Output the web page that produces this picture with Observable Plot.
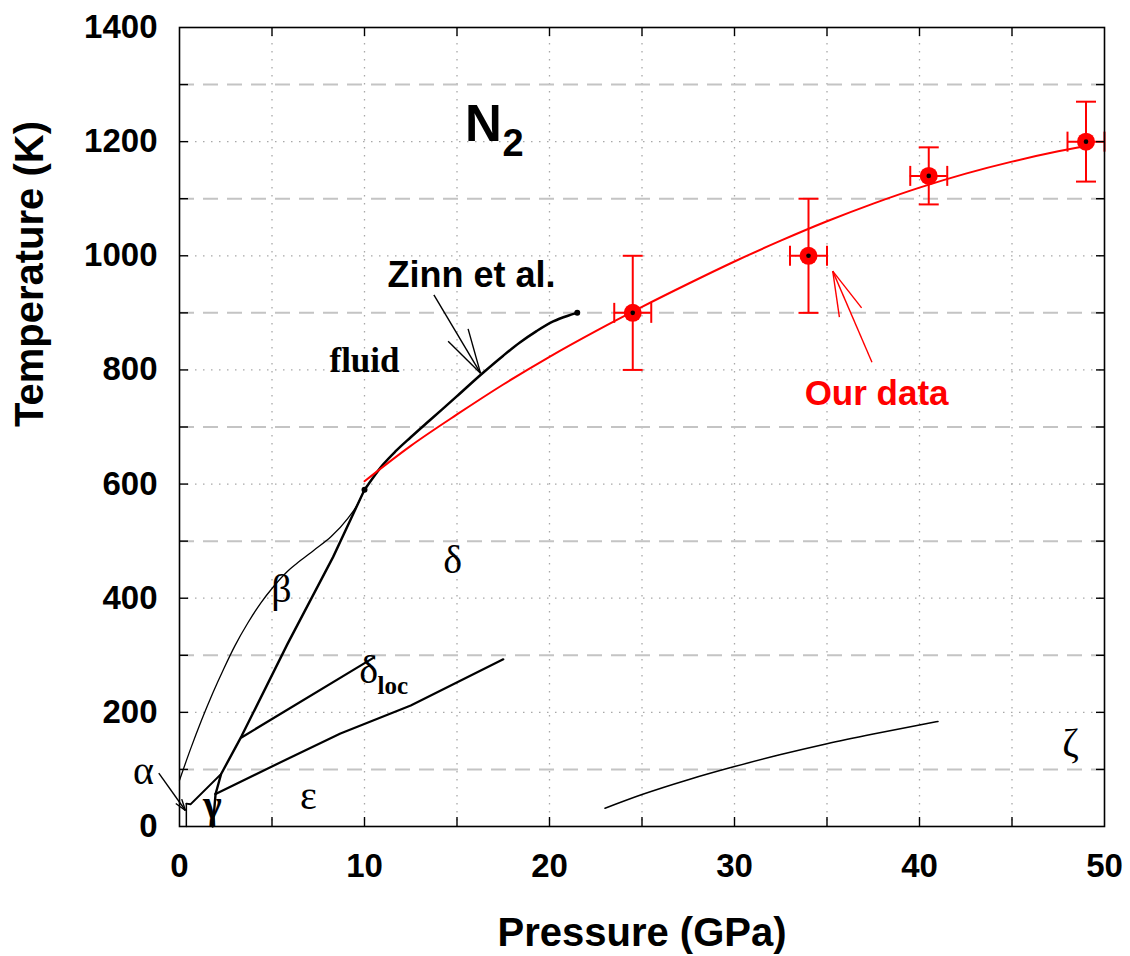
<!DOCTYPE html>
<html><head><meta charset="utf-8">
<script src="https://cdn.jsdelivr.net/npm/d3@7"></script>
<script src="https://cdn.jsdelivr.net/npm/@observablehq/plot@0.6"></script>
<style>body{margin:0;background:#fff}#chart svg{display:block}</style>
</head><body><div id="chart"></div>
<script>
// ---- axis ticks ----
const xTickLabels = [0, 10, 20, 30, 40, 50];
const xMinorTicks = [5, 10, 15, 20, 25, 30, 35, 40, 45];
const yTickLabels = [0, 200, 400, 600, 800, 1000, 1200, 1400];
const yDotGrid = [200, 400, 600, 800, 1000, 1200];
const yDashGrid = [100, 300, 500, 700, 900, 1100, 1300];
const yAllTicks = [100, 200, 300, 400, 500, 600, 700, 800, 900, 1000, 1100, 1200, 1300];

// ---- our data (red) ----
const ourP = [24.5, 34, 40.5, 49];
const ourT = [900, 1000, 1140, 1200];
const ourPErr = [1, 1, 1, 1];
const ourTErr = [100, 100, 50, 70];

// ---- fit through our data (red curve) ----
const fitP = [10, 12.5, 15, 17.5, 20, 22.5, 25, 27.5, 30, 32.5, 35, 37.5, 40, 42.5, 45, 47.5, 49];
const fitT = [605, 667, 722, 774.5, 823, 868, 910.5, 951, 990, 1026.5, 1060.5, 1091.5, 1119.5, 1144, 1165, 1183, 1192.6];

// ---- Zinn et al. melting line ----
const zinnP = [10, 10.5, 11, 11.7, 12.5, 13.5, 15, 16.3, 17.5, 18.4, 19.3, 20.2, 21, 21.5];
const zinnT = [590, 613, 634, 658, 682, 711, 754, 792, 825, 848, 868, 885, 895, 900];

// ---- phase boundaries ----
const betaFluidP = [0, 0.6, 1.2, 1.8, 2.4, 3.0, 3.7, 4.4, 5.1, 5.8, 6.5, 7.3, 8.2, 9.1, 9.6, 10];
const betaFluidT = [81, 136, 187, 234, 277, 317, 357, 392, 421, 446, 465, 485, 508, 540, 563, 590];
const betaDeltaP = [1.95, 2.25, 3.35, 5.84, 8.3, 10];
const betaDeltaT = [57, 92, 158, 320, 472, 590];
const alphaBetaP = [0.37, 0.6, 2.25];
const alphaBetaT = [40, 39, 92];
const alphaEdgeP = [0.37, 0.37];
const alphaEdgeT = [0, 40];
const gammaEdgeP = [1.95, 1.8];
const gammaEdgeT = [57, 0];
const epsP = [1.95, 6.0, 8.7, 12.5, 17.5];
const epsT = [57, 121, 163, 212, 293];
const deltaLocP = [3.35, 10.5];
const deltaLocT = [156, 296];
const zetaP = [23, 25, 27.5, 30, 32.5, 35, 37.5, 40, 41];
const zetaT = [32, 56, 82, 105, 126, 145, 162, 178, 184];

// ---- annotation arrows (segments: from -> tip) ----
const arrowP1 = [13.75, 14.52, 15.6, 37.43, 35.67, 36.87, -1.12, -0.2, 0.12];
const arrowT1 = [931.6, 850.4, 872, 813.6, 892.5, 908.8, 93.4, 40.3, 48];
const arrowP2 = [16.27, 16.27, 16.27, 35.31, 35.31, 35.31, 0.32, 0.32, 0.32];
const arrowT2 = [794.3, 794.3, 794.3, 973.1, 973.1, 973.1, 28, 28, 28];
const arrowColor = ["black", "black", "black", "red", "red", "red", "black", "black", "black"];

// ---- labels ----
const greekText = ["α", "β", "δ", "ε", "ζ", "δ"];
const greekP = [-1.95, 5.51, 14.76, 6.97, 48.16, 10.22];
const greekT = [75, 393, 445, 31.5, 124, 250.6];
const gammaText = ["γ"]; const gammaP = [1.78]; const gammaT = [15];
const locText = ["loc"]; const locP = [10.7]; const locT = [233];
const fluidText = ["fluid"]; const fluidP = [10.0]; const fluidT = [795.5];
const zinnText = ["Zinn et al."]; const zinnLabelP = [15.78]; const zinnLabelT = [946];
const ourText = ["Our data"]; const ourLabelP = [37.68]; const ourLabelT = [738];
const nText = ["N"]; const nP = [16.43]; const nT = [1200.8];
const subText = ["2"]; const subP = [17.46]; const subT = [1175.7];
const xTitle = "Pressure (GPa)";
const yTitle = "Temperature (K)";

// ---- build tables ----
const pts = ourP.map((p, i) => ({p, t: ourT[i], pe: ourPErr[i], te: ourTErr[i]}));
const toPts = (P, T) => P.map((p, i) => ({p, t: T[i]}));
const arrows = arrowP1.map((p, i) => ({p1: p, t1: arrowT1[i], p2: arrowP2[i], t2: arrowT2[i], c: arrowColor[i]}));
const lbl = (txt, P, T) => txt.map((s, i) => ({s, p: P[i], t: T[i]}));

const hCap = {draw(ctx, size) { const r = Math.sqrt(size / Math.PI); ctx.moveTo(-r, 0); ctx.lineTo(r, 0); }};
const vCap = {draw(ctx, size) { const r = Math.sqrt(size / Math.PI); ctx.moveTo(0, -r); ctx.lineTo(0, r); }};

const SANS = "Liberation Sans, Arial, Helvetica, sans-serif";
const SERIF = "Liberation Serif, Times New Roman, serif";
const dotted = {stroke: "#a8a8a8", strokeOpacity: 1, strokeWidth: 1.3, strokeDasharray: "1.5,6.5"};

const chart = Plot.plot({
  width: 1130, height: 956,
  marginLeft: 179, marginRight: 26, marginTop: 27, marginBottom: 130,
  x: {domain: [0, 50]},
  y: {domain: [0, 1400]},
  style: {background: "white", overflow: "visible", fontFamily: SANS},
  marks: [
    Plot.gridX({ticks: xMinorTicks, ...dotted}),
    Plot.gridY({ticks: yDotGrid, ...dotted}),
    Plot.gridY({ticks: yDashGrid, stroke: "#c4c4c4", strokeOpacity: 1, strokeWidth: 2, strokeDasharray: "15,9"}),

    // phase lines
    Plot.line(toPts(betaFluidP, betaFluidT), {x: "p", y: "t", stroke: "black", strokeWidth: 1.3, curve: "monotone-x"}),
    Plot.line(toPts(betaDeltaP, betaDeltaT), {x: "p", y: "t", stroke: "black", strokeWidth: 2.4}),
    Plot.line(toPts(alphaBetaP, alphaBetaT), {x: "p", y: "t", stroke: "black", strokeWidth: 1.8}),
    Plot.line(toPts(alphaEdgeP, alphaEdgeT), {x: "p", y: "t", stroke: "black", strokeWidth: 1.5}),
    Plot.line(toPts(gammaEdgeP, gammaEdgeT), {x: "p", y: "t", stroke: "black", strokeWidth: 2.4}),
    Plot.line(toPts(epsP, epsT), {x: "p", y: "t", stroke: "black", strokeWidth: 2.2}),
    Plot.line(toPts(deltaLocP, deltaLocT), {x: "p", y: "t", stroke: "black", strokeWidth: 2.2}),
    Plot.line(toPts(zetaP, zetaT), {x: "p", y: "t", stroke: "black", strokeWidth: 1.5, curve: "monotone-x"}),
    Plot.line(toPts(zinnP, zinnT), {x: "p", y: "t", stroke: "black", strokeWidth: 2.5, curve: "monotone-x"}),
    Plot.dot([{p: zinnP[zinnP.length - 1], t: zinnT[zinnT.length - 1]}, {p: zinnP[0], t: zinnT[0]}], {x: "p", y: "t", r: 3, fill: "black"}),

    // red fit
    Plot.line(toPts(fitP, fitT), {x: "p", y: "t", stroke: "#ff0000", strokeWidth: 2, curve: "monotone-x"}),

    // error bars
    Plot.ruleX(pts, {x: "p", y1: d => d.t - d.te, y2: d => d.t + d.te, stroke: "#ff0000", strokeWidth: 2}),
    Plot.ruleY(pts, {y: "t", x1: d => d.p - d.pe, x2: d => d.p + d.pe, stroke: "#ff0000", strokeWidth: 2}),
    Plot.dot(pts, {x: "p", y: d => d.t - d.te, symbol: hCap, r: 10, fill: "none", stroke: "#ff0000", strokeWidth: 2}),
    Plot.dot(pts, {x: "p", y: d => d.t + d.te, symbol: hCap, r: 10, fill: "none", stroke: "#ff0000", strokeWidth: 2}),
    Plot.dot(pts, {x: d => d.p - d.pe, y: "t", symbol: vCap, r: 10, fill: "none", stroke: "#ff0000", strokeWidth: 2}),
    Plot.dot(pts, {x: d => d.p + d.pe, y: "t", symbol: vCap, r: 10, fill: "none", stroke: "#ff0000", strokeWidth: 2}),
    Plot.dot(pts, {x: "p", y: "t", r: 9, fill: "#ff0000"}),
    Plot.dot(pts, {x: "p", y: "t", r: 2.3, fill: "black"}),

    // arrows
    Plot.link(arrows, {x1: "p1", y1: "t1", x2: "p2", y2: "t2", stroke: "c", strokeWidth: 1.4}),

    // labels
    Plot.text(lbl(greekText, greekP, greekT), {x: "p", y: "t", text: "s", lineAnchor: "bottom", fontFamily: SERIF, fontSize: 40, fill: "black"}),
    Plot.text(lbl(gammaText, gammaP, gammaT), {x: "p", y: "t", text: "s", lineAnchor: "bottom", fontFamily: SERIF, fontSize: 40, fontWeight: "bold", fill: "black"}),
    Plot.text(lbl(locText, locP, locT), {x: "p", y: "t", text: "s", lineAnchor: "bottom", textAnchor: "start", fontFamily: SERIF, fontSize: 25, fontWeight: "bold", fill: "black"}),
    Plot.text(lbl(fluidText, fluidP, fluidT), {x: "p", y: "t", text: "s", lineAnchor: "bottom", fontFamily: SERIF, fontSize: 35, fontWeight: "bold", fill: "black"}),
    Plot.text(lbl(zinnText, zinnLabelP, zinnLabelT), {x: "p", y: "t", text: "s", lineAnchor: "bottom", fontFamily: SANS, fontSize: 36, fontWeight: "bold", fill: "black"}),
    Plot.text(lbl(ourText, ourLabelP, ourLabelT), {x: "p", y: "t", text: "s", lineAnchor: "bottom", fontFamily: SANS, fontSize: 35, fontWeight: "bold", fill: "#ff0000"}),
    Plot.text(lbl(nText, nP, nT), {x: "p", y: "t", text: "s", lineAnchor: "bottom", fontFamily: SANS, fontSize: 51, fontWeight: "bold", fill: "black"}),
    Plot.text(lbl(subText, subP, subT), {x: "p", y: "t", text: "s", lineAnchor: "bottom", textAnchor: "start", fontFamily: SANS, fontSize: 38, fontWeight: "bold", fill: "black"}),

    // frame and axes
    Plot.frame({stroke: "black", strokeWidth: 1.6}),
    Plot.axisX({anchor: "bottom", ticks: xMinorTicks, tickSize: -9, tickFormat: () => "", label: null, strokeWidth: 1.4}),
    Plot.axisX({anchor: "top", ticks: xMinorTicks, tickSize: -8, tickFormat: () => "", label: null, strokeWidth: 1.4}),
    Plot.axisY({anchor: "left", ticks: yAllTicks, tickSize: -9, tickFormat: () => "", label: null, strokeWidth: 1.4}),
    Plot.axisY({anchor: "right", ticks: yAllTicks, tickSize: -9, tickFormat: () => "", label: null, strokeWidth: 1.4}),
    Plot.axisX({anchor: "bottom", ticks: xTickLabels, tickFormat: d => String(d), tickSize: 0, tickPadding: 27, label: null, fontSize: 33, fontWeight: "bold", fontFamily: SANS, fill: "black"}),
    Plot.axisY({anchor: "left", ticks: yTickLabels, tickFormat: d => String(d), tickSize: 0, tickPadding: 22, label: null, fontSize: 33, fontWeight: "bold", fontFamily: SANS, fill: "black"}),
    Plot.text([xTitle], {text: d => d, frameAnchor: "bottom", dy: 119, lineAnchor: "bottom", fontSize: 40, fontWeight: "bold", fontFamily: SANS, fill: "black"}),
    Plot.text([yTitle], {text: d => d, frameAnchor: "left", dx: -137, rotate: -90, lineAnchor: "bottom", fontSize: 40, fontWeight: "bold", fontFamily: SANS, fill: "black"})
  ]
});
document.getElementById("chart").appendChild(chart);
</script></body></html>
